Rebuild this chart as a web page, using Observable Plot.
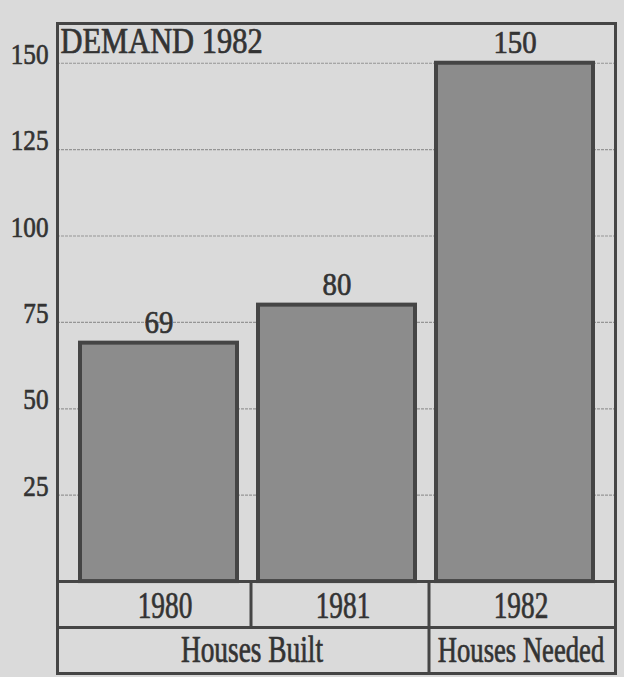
<!DOCTYPE html>
<html><head><meta charset="utf-8">
<script src="https://cdn.jsdelivr.net/npm/d3@7"></script>
<script src="https://cdn.jsdelivr.net/npm/@observablehq/plot@0.6"></script>
<style>
html,body{margin:0;padding:0;background:#dadada;}
#chart svg{display:block;}
#chart svg text{font-family:"Liberation Serif","Times New Roman",serif;}
</style></head><body><div id="chart"></div>
<script>
// ---- data ----
const years = ["1980", "1981", "1982"];
const houses = [69, 80, 150];
const groups = ["Houses Built", "Houses Built", "Houses Needed"];
const yTicks = [25, 50, 75, 100, 125, 150];
const chartTitle = "DEMAND 1982";
const dividers = [{at: "1981", rows: 1}, {at: "1982", rows: 2}];

const data = years.map((year, i) => ({year, value: houses[i], group: groups[i]}));

const ink = "#333333";
const rowH = 13.3; // table row height in y units
const serif = "Liberation Serif";
const txt = {fill: ink, stroke: ink, strokeWidth: 0.7, fontFamily: serif};

const svg = Plot.plot({
  width: 624,
  height: 677,
  marginLeft: 57,
  marginRight: 9,
  marginTop: 23,
  marginBottom: 4,
  style: {background: "#dadada", fontFamily: serif, color: ink},
  x: {domain: years, padding: 0.12, axis: null},
  y: {domain: [-2 * rowH, 161.5], axis: null},
  marks: [
    Plot.ruleY(yTicks, {stroke: "#959595", strokeWidth: 1.2, strokeDasharray: "3,1"}),
    Plot.barY(data, {x: "year", y: "value", fill: "#8c8c8c", stroke: "#454545", strokeWidth: 4}),
    // y tick labels
    Plot.text(yTicks, {y: d => d, text: d => String(d), frameAnchor: "left", textAnchor: "end", dx: -9, dy: -9, fontSize: 30, ...txt}),
    // value labels
    Plot.text(data, {x: "year", y: "value", text: d => String(d.value), dy: -20, fontSize: 32, ...txt}),
    // title
    Plot.text([chartTitle], {frameAnchor: "top-left", textAnchor: "start", lineAnchor: "top", dx: 3, dy: 5, fontSize: 35, ...txt}),
    // year row
    Plot.text(data, {x: "year", y: -rowH / 2, text: "year", dx: 6, dy: 2, fontSize: 37, ...txt}),
    // group row
    Plot.text(data.filter(d => d.year === "1980"), {x: "year", y: -1.5 * rowH, text: "group", dx: 93, fontSize: 37, ...txt}),
    Plot.text(data.filter(d => d.year === "1982"), {x: "year", y: -1.5 * rowH, text: "group", dx: 6, fontSize: 36, ...txt}),
    // table lines
    Plot.ruleY([0, -rowH], {stroke: "#454545", strokeWidth: 3}),
    Plot.ruleX(dividers, {x: "at", y1: 0, y2: d => -d.rows * rowH, dx: -86, stroke: "#454545", strokeWidth: 3}),
    Plot.frame({stroke: "#454545", strokeWidth: 3})
  ]
});
document.getElementById("chart").append(svg);

// condense the serif type horizontally like the original narrow typeface
const condense = [0.84, 0.9, 0.87, 0.74, 0.74, 0.74];
d3.select(svg).selectAll('g[aria-label="text"]').each(function (_, i) {
  const f = condense[i] ?? 1;
  d3.select(this).selectAll("text").each(function () {
    const t = this.getAttribute("transform") || "";
    this.setAttribute("transform", `${t} scale(${f},1)`.trim());
  });
});
</script></body></html>
